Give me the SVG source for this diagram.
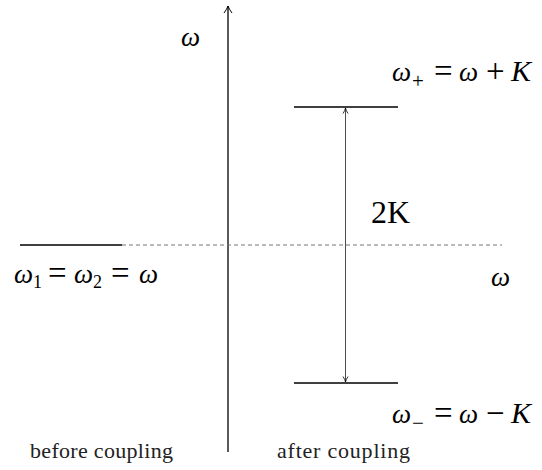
<svg xmlns="http://www.w3.org/2000/svg" width="542" height="470" viewBox="0 0 542 470">
<style>
text{font-family:"Liberation Serif","DejaVu Serif","Times New Roman",serif;fill:#000}
.w{font-size:27px;font-style:italic}
.k{font-size:30px;font-style:italic}
.o{font-size:33px}
.s{font-size:18px}
.sp{font-size:21px}
.t{font-size:22px;fill:#222}
.lv{stroke:#000;stroke-width:1.3;fill:none}
</style>
<defs>
<marker id="ah" markerWidth="10" markerHeight="10" refX="8" refY="5" orient="auto" markerUnits="userSpaceOnUse">
<path d="M1,1 Q5,4 8,5 Q5,6 1,9" fill="none" stroke="#000" stroke-width="1"/>
</marker>
<marker id="sa" markerWidth="8" markerHeight="8" refX="6.5" refY="4" orient="auto-start-reverse" markerUnits="userSpaceOnUse">
<path d="M1,1.5 Q4,3.5 6.5,4 Q4,4.5 1,6.5" fill="none" stroke="#000" stroke-width="0.8"/>
</marker>
</defs>
<g id="connectors">
<line x1="228" y1="452" x2="228" y2="6" class="lv" marker-end="url(#ah)"/>
<line x1="122" y1="245" x2="502" y2="245" stroke="#777" stroke-width="1" stroke-dasharray="4,3"/>
<line x1="345.5" y1="108" x2="345.5" y2="382" stroke="#000" stroke-width="0.7" marker-start="url(#sa)" marker-end="url(#sa)"/>
</g>
<g id="level-before">
<line x1="20" y1="245" x2="122" y2="245" class="lv"/>
<text y="283"><tspan class="w" x="14">ω</tspan><tspan class="s" x="33" y="288">1</tspan><tspan class="o" x="48" y="284">=</tspan><tspan class="w" x="74" y="283">ω</tspan><tspan class="s" x="93" y="288">2</tspan><tspan class="o" x="111" y="284">=</tspan><tspan class="w" x="139" y="283">ω</tspan></text>
</g>
<g id="level-plus">
<line x1="294" y1="107" x2="398" y2="107" class="lv"/>
<text y="81"><tspan class="w" x="392">ω</tspan><tspan class="sp" x="412" y="88">+</tspan><tspan class="o" x="434" y="82">=</tspan><tspan class="w" x="459" y="81">ω</tspan><tspan class="o" x="486" y="82">+</tspan><tspan class="k" x="511" y="81">K</tspan></text>
</g>
<g id="level-minus">
<line x1="294" y1="383" x2="398" y2="383" class="lv"/>
<text y="423"><tspan class="w" x="392">ω</tspan><tspan class="sp" x="412" y="430">−</tspan><tspan class="o" x="434" y="424">=</tspan><tspan class="w" x="459" y="423">ω</tspan><tspan class="o" x="486" y="424">−</tspan><tspan class="k" x="511" y="423">K</tspan></text>
</g>
<g id="labels">
<text class="w" x="181" y="46">ω</text>
<text class="w" x="491" y="286">ω</text>
<text x="371" y="223" style="font-size:32px">2K</text>
<text class="t" x="30" y="458" textLength="143" lengthAdjust="spacing">before coupling</text>
<text class="t" x="277" y="458" textLength="133" lengthAdjust="spacing">after coupling</text>
</g>
</svg>
